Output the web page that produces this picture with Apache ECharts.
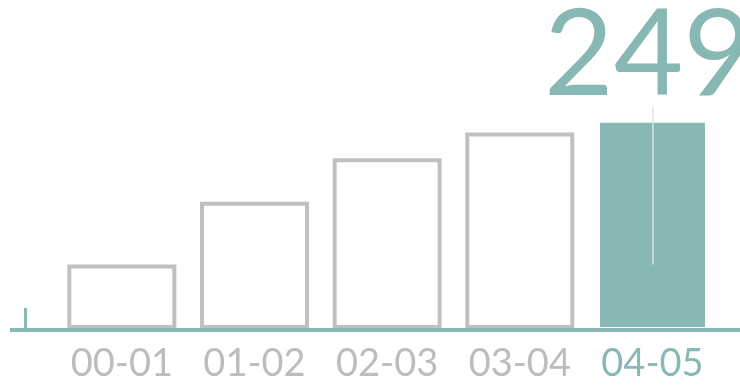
<!DOCTYPE html>
<html>
<head>
<meta charset="utf-8">
<script src="https://cdn.jsdelivr.net/npm/echarts@6/dist/echarts.min.js"></script>
<style>
  html, body { margin: 0; padding: 0; background: #fff; }
  #chart { width: 740px; height: 385px; }
</style>
</head>
<body>
<div id="chart"></div>
<script>
// Seasons and their totals
const categories = ['00-01', '01-02', '02-03', '03-04', '04-05'];
const values = [77, 152, 204, 235, 249];
// Thin guide across the highlighted bar, in value units
const guideRange = [265, 77];

const TEAL = '#88b8b4';
const GREY = '#c0c0c0';
const last = values.length - 1;

const chart = echarts.init(document.getElementById('chart'), null, { renderer: 'canvas' });

chart.setOption({
  animation: false,
  grid: { left: 55.5, right: 21.2, top: 78, bottom: 56 },
  xAxis: {
    type: 'category',
    data: categories,
    axisLine: { show: false },
    axisTick: { show: false },
    axisLabel: {
      interval: 0,
      margin: 16,
      fontFamily: 'Lato',
      fontSize: 38,
      color: (v, i) => (i === last ? TEAL : '#bdbdbd')
    }
  },
  yAxis: {
    type: 'value',
    min: 0,
    max: 300,
    show: false,
    splitLine: { show: false }
  },
  series: [{
    type: 'bar',
    barWidth: 109,
    data: values.map((v, i) => ({
      value: v,
      itemStyle: i === last
        ? { color: TEAL, borderColor: '#ffffff', borderWidth: 2 }
        : { color: '#ffffff', borderColor: GREY, borderWidth: 4 },
      label: i === last
        ? {
            show: true,
            position: 'top',
            distance: 4,
            offset: [-4, 0],
            fontFamily: 'Lato',
            fontSize: 120,
            color: TEAL
          }
        : { show: false }
    })),
    markLine: {
      silent: true,
      symbol: 'none',
      label: { show: false },
      lineStyle: { color: '#d4e6e4', width: 1.5, type: 'solid' },
      data: [[
        { coord: [categories[last], guideRange[0]] },
        { coord: [categories[last], guideRange[1]] }
      ]]
    }
  }]
});

// Baseline and the small marker at its left end
const y0 = chart.convertToPixel({ yAxisIndex: 0 }, 0);
chart.setOption({
  graphic: [
    {
      type: 'line',
      shape: { x1: 10, y1: y0 + 1, x2: 740, y2: y0 + 1 },
      style: { stroke: TEAL, lineWidth: 4 },
      z: 10
    },
    {
      type: 'line',
      shape: { x1: 25.5, y1: y0, x2: 25.5, y2: y0 - 21 },
      style: { stroke: TEAL, lineWidth: 3 },
      z: 10
    }
  ]
});
</script>
</body>
</html>
